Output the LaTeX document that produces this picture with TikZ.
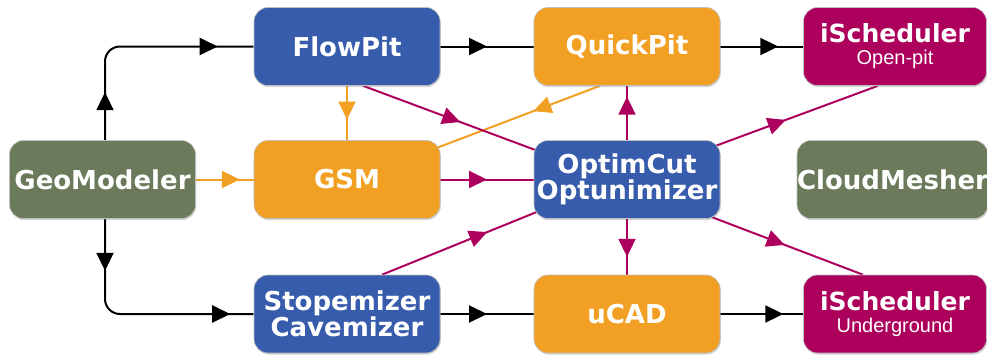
\documentclass[tikz,border=0pt]{standalone}
\usepackage{fontspec}
\setmainfont{DejaVu Sans}
\newfontfamily\subfont{Liberation Sans}
\usetikzlibrary{arrows.meta,decorations.markings,calc,backgrounds,shadows}
\definecolor{cblue}{HTML}{385CAC}
\definecolor{corange}{HTML}{F2A024}
\definecolor{cmag}{HTML}{AC005C}
\definecolor{cgreen}{HTML}{6A7A5A}
\tikzset{mytip/.tip={Triangle[length=18pt,width=17pt]}}
\begin{document}
\begin{tikzpicture}[x=1pt,y=-1pt,
  box/.style={rounded corners=14pt, minimum width=186pt, minimum height=78pt, text=white,
    font=\bfseries\fontsize{26}{25}\selectfont, align=center, inner sep=0pt,
    draw=black!25, line width=0.6pt,
    drop shadow={shadow xshift=0.8pt, shadow yshift=-1.5pt, opacity=0.35}},
  bluebox/.style={box, fill=cblue},
  orangebox/.style={box, fill=corange},
  magbox/.style={box, fill=cmag, minimum width=183pt},
  greenbox/.style={box, fill=cgreen},
  conn/.style={line width=2pt},
  blk/.style={conn, draw=black},
  org/.style={conn, draw=corange},
  mag/.style={conn, draw=cmag},
  arrowat/.style={postaction={decorate,decoration={markings,
      mark=at position #1 with {\arrow{mytip}}}}},
  arrowtwo/.style 2 args={postaction={decorate,decoration={markings,
      mark=at position #1 with {\arrow{mytip}},
      mark=at position #2 with {\arrow{mytip}}}}},
]
\useasboundingbox (0,0) rectangle (987,357);
\newcommand{\subtxt}[1]{{\subfont\mdseries\fontsize{20}{20}\selectfont #1}}
\newcommand{\schedtxt}{{\fontsize{25}{22}\selectfont iScheduler}}

\node[bluebox]   (flow)  at (347,46.5)  {FlowPit};
\node[orangebox] (quick) at (627,46.5)  {QuickPit};
\node[magbox]    (isop)  at (895,46.5)  {\schedtxt\\[-3pt]\subtxt{Open-pit}};
\node[greenbox]  (geo)   at (102.5,179.5) {GeoModeler};
\node[orangebox] (gsm)   at (347,179.5) {GSM};
\node[bluebox]   (opt)   at (627,179.5) {OptimCut\\Optunimizer};
\node[greenbox]  (cloud) at (892.5,179.5) {CloudMesher};
\node[bluebox]   (stope) at (347,314)   {Stopemizer\\Cavemizer};
\node[orangebox] (ucad)  at (627,314)   {uCAD};
\node[magbox]    (isug)  at (895,314)   {\schedtxt\\[-3pt]\subtxt{Underground}};

\begin{pgfonlayer}{background}
  % black flow
  \draw[blk, rounded corners=15pt, arrowtwo={48pt}{200pt}] ($(geo.north)+(2.5,0)$) |- (flow.west);
  \draw[blk, rounded corners=15pt, arrowtwo={52pt}{214pt}] ($(geo.south)+(2.5,0)$) |- (stope.west);
  \draw[blk, arrowat=0.5] (flow.east) -- (quick.west);
  \draw[blk, arrowat=0.7] (quick.east) -- (isop.west);
  \draw[blk, arrowat=0.5] (stope.east) -- (ucad.west);
  \draw[blk, arrowat=0.76] (ucad.east) -- (isug.west);
  % orange
  \draw[org, arrowat=0.76] (geo.east) -- (gsm.west);
  \draw[org, arrowat=0.62] (flow.south) -- (gsm.north);
  \draw[org, arrowat=0.41] ($(quick.south)+(-27,0)$) -- ($(gsm.north east)+(-3,7.5)$);
  % magenta
  \draw[mag, arrowat=0.5] (gsm.east) -- (opt.west);
  \draw[mag, arrowat=0.8] (opt.north) -- (quick.south);
  \draw[mag, arrowat=0.68] (opt.south) -- (ucad.north);
  \draw[mag, arrowat=0.56] ($(flow.south)+(16,0)$) -- ($(opt.west)+(3,-29)$);
  \draw[mag, arrowat=0.68] ($(stope.north)+(35,0)$) -- ($(opt.west)+(3,32.5)$);
  \draw[mag, arrowat=0.44] ($(opt.north east)+(-7,6.5)$) -- ($(isop.south)+(-17,0)$);
  \draw[mag, arrowat=0.48] ($(opt.south east)+(-8,-1.5)$) -- ($(isug.north)+(-32,0)$);
\end{pgfonlayer}
\end{tikzpicture}
\end{document}
